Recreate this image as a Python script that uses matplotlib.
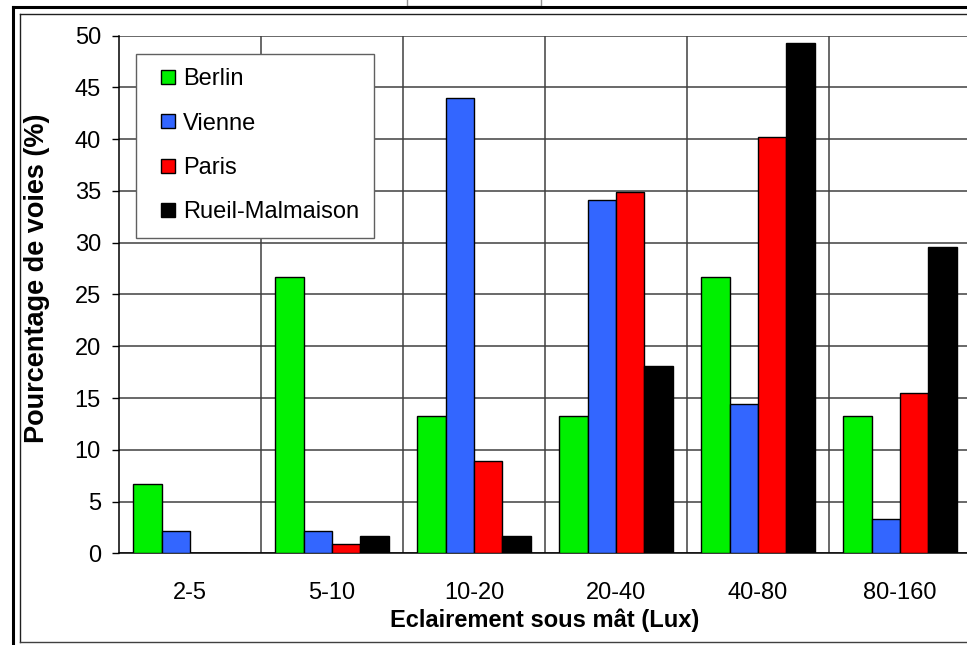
import numpy as np
import matplotlib.pyplot as plt
from matplotlib.lines import Line2D
from matplotlib.patches import Rectangle
from matplotlib.legend_handler import HandlerPatch

plt.rcParams['font.family'] = ['Liberation Sans', 'DejaVu Sans']

categories = ["2-5", "5-10", "10-20", "20-40", "40-80", "80-160"]
series_names = ["Berlin", "Vienne", "Paris", "Rueil-Malmaison"]
berlin = [6.7, 26.7, 13.3, 13.3, 26.7, 13.3]
vienne = [2.2, 2.2, 44.0, 34.1, 14.4, 3.3]
paris = [0.0, 0.9, 8.9, 34.9, 40.2, 15.5]
rueil = [0.0, 1.7, 1.7, 18.1, 49.3, 29.6]
colors = ["#00F000", "#3366FF", "#FF0000", "#000000"]

W, H = 967, 645
fig = plt.figure(figsize=(W / 100, H / 100), dpi=100)


def px(x, y):
    # pixel position (from top-left) to figure fraction
    return x / W, 1 - y / H


def small_square(legend, orig_handle, xdescent, ydescent, width, height, fontsize):
    # square key pushed to the right end of the handle box
    s = 10.0
    return Rectangle((width - s - xdescent, (height - s) / 2 - ydescent), s, s)


# plot area runs off the right side of the canvas
left, bottom = px(119, 553.3)
right, top = px(971, 35.7)
ax = fig.add_axes([left, bottom, right - left, top - bottom])

x = np.arange(len(categories))
bw = 0.2
bars = []
for i, (vals, name, c) in enumerate(zip([berlin, vienne, paris, rueil], series_names, colors)):
    b = ax.bar(x + (i - 1.5) * bw, vals, bw, color=c, edgecolor="black", linewidth=1.0,
               label=name, zorder=3)
    bars.append(b)

ax.set_xlim(-0.5, len(categories) - 0.5)
ax.set_ylim(0, 50)
ax.set_yticks(np.arange(0, 51, 5))
ax.set_xticks(x)
ax.set_xticklabels(categories)
ax.set_xticks(x[:-1] + 0.5, minor=True)

ax.grid(axis="y", which="major", color="#404040", linewidth=1.1, zorder=0)
ax.grid(axis="x", which="minor", color="#404040", linewidth=1.1, zorder=0)
ax.set_axisbelow(True)

for side in ["top", "right"]:
    ax.spines[side].set_visible(False)
ax.spines["left"].set_linewidth(1.1)
ax.spines["bottom"].set_linewidth(1.1)

ax.tick_params(axis="y", labelsize=17, length=5, width=1.0, pad=8)
ax.tick_params(axis="x", which="both", length=0, labelsize=17, pad=21)

ax.set_ylabel("Pourcentage de voies (%)", fontsize=19.5, fontweight="bold")
ax.yaxis.set_label_coords(-0.081, 0.532)
ax.set_xlabel("Eclairement sous mât (Lux)", fontsize=17, fontweight="bold", labelpad=3)

handles = [b.patches[0] for b in bars]
leg = ax.legend(handles, series_names, loc="upper left", bbox_to_anchor=px(136, 54),
                bbox_transform=fig.transFigure,
                handler_map={Rectangle: HandlerPatch(patch_func=small_square)},
                fontsize=17, frameon=True, fancybox=False, framealpha=1,
                edgecolor="#606060", handlelength=1.06, handleheight=0.62,
                handletextpad=0.34, labelspacing=0.95, borderpad=0.6, borderaxespad=0)
leg.get_frame().set_linewidth(1.0)

# outer frame lines
fig.add_artist(Line2D([px(13, 0)[0], px(13, 0)[0]], [px(0, 7)[1], 0], color="black", lw=2.2,
                      transform=fig.transFigure))
fig.add_artist(Line2D([px(13, 0)[0], 1], [px(0, 7)[1], px(0, 7)[1]], color="black", lw=2.2,
                      transform=fig.transFigure))
fig.add_artist(Line2D([px(20, 0)[0], px(20, 0)[0]], [px(0, 14)[1], px(0, 642)[1]], color="#202020",
                      lw=1.0, transform=fig.transFigure))
fig.add_artist(Line2D([px(20, 0)[0], 1], [px(0, 14)[1], px(0, 14)[1]], color="#202020", lw=1.0,
                      transform=fig.transFigure))
fig.add_artist(Line2D([px(20, 0)[0], 1], [px(0, 642)[1], px(0, 642)[1]], color="#404040", lw=1.0,
                      transform=fig.transFigure))

# small title box cut at the top edge
bx, by = px(407, 6)
fig.add_artist(Rectangle((bx, by), (541 - 407) / W, 10 / H, facecolor="white", edgecolor="#909090",
                         lw=1.0, transform=fig.transFigure))

fig.savefig("out.png", dpi=100)
